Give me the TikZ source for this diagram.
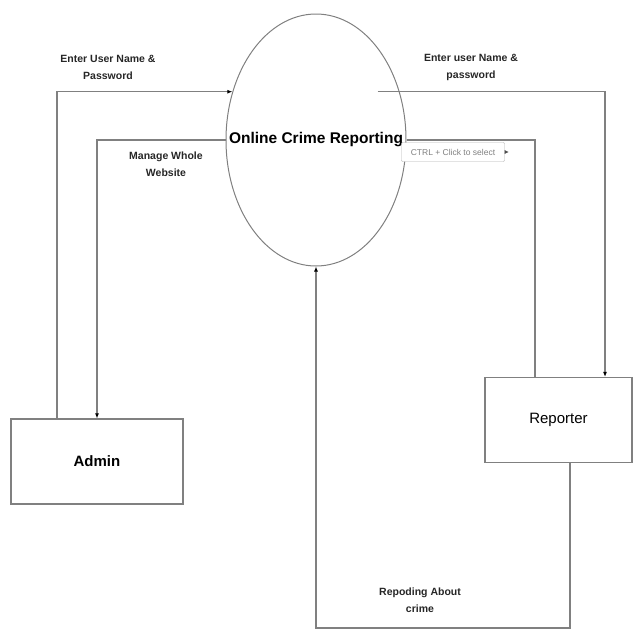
\documentclass[tikz,border=0pt]{standalone}
\usepackage{fontspec}
\setmainfont{Liberation Sans}
\usetikzlibrary{positioning, shapes.geometric, arrows.meta}
\tikzset{proc/.style = {ellipse,draw=gray,line width=1pt,minimum width=180pt,minimum height=252pt,inner sep=0pt},
         entity/.style = {rectangle,draw=gray,line width=1.2pt,minimum height=85pt,font=\fontsize{15}{18}\selectfont},
         flow/.style = {draw=gray,line width=1.2pt,-{Latex[length=5pt,width=4pt,color=black]}},
         lbl/.style = {align=center,text=black!85,font=\bfseries\fontsize{10.5}{17}\selectfont},
         tipbox/.style = {draw=gray!60,fill=white,text=gray,rounded corners=1pt,minimum width=103pt,
                          minimum height=19pt,inner sep=1pt,font=\fontsize{8.5}{10}\selectfont}}

\begin{document}
\begin{tikzpicture}[x=1pt, y=-1pt]
    \useasboundingbox (0,0) rectangle (635,633);

    \node[proc] (crime) at (316,140) {};
    \node[font=\bfseries\fontsize{15.5}{18}\selectfont] (title) at (crime.center) {Online Crime Reporting};
    \node[entity, minimum width=172pt, font=\bfseries\fontsize{15}{18}\selectfont] (admin) at (97,461.5) {Admin};
    \node[entity, minimum width=147pt] (reporter) at (558.5,420) {Reporter};

    \coordinate (a1) at (57,92);
    \coordinate (r1) at (605,89);
    \coordinate (r2) at (535,142);
    \coordinate (b1) at (570,628);

    \draw[flow] (admin.north -| a1) |- (crime.150);
    \draw[flow] (crime.west) -| (admin.north);
    \draw[flow] ([xshift=-22pt]crime.30) -| (reporter.north -| r1);
    \draw[flow, -] (reporter.north -| r2) |- (crime.east);
    \draw[flow] (reporter.south -| b1) -- (b1) -| (crime.south);

    \node[lbl] (lAdmin) at (108,67) {Enter User Name \&\\Password};
    \node[lbl] (lManage) at (166,164) {Manage Whole\\Website};
    \node[lbl] (lReporter) at (471,67) {Enter user Name \&\\password};
    \node[lbl] (lCrime) at (420,600) {Repoding About\\crime};

    \node[tipbox] (tip) at (453,152) {CTRL + Click to select};
    \draw[-{Latex[length=4pt,width=4pt]}, line width=0.6pt, black!70] (tip.east) -- ++(4,0);
\end{tikzpicture}
\end{document}
